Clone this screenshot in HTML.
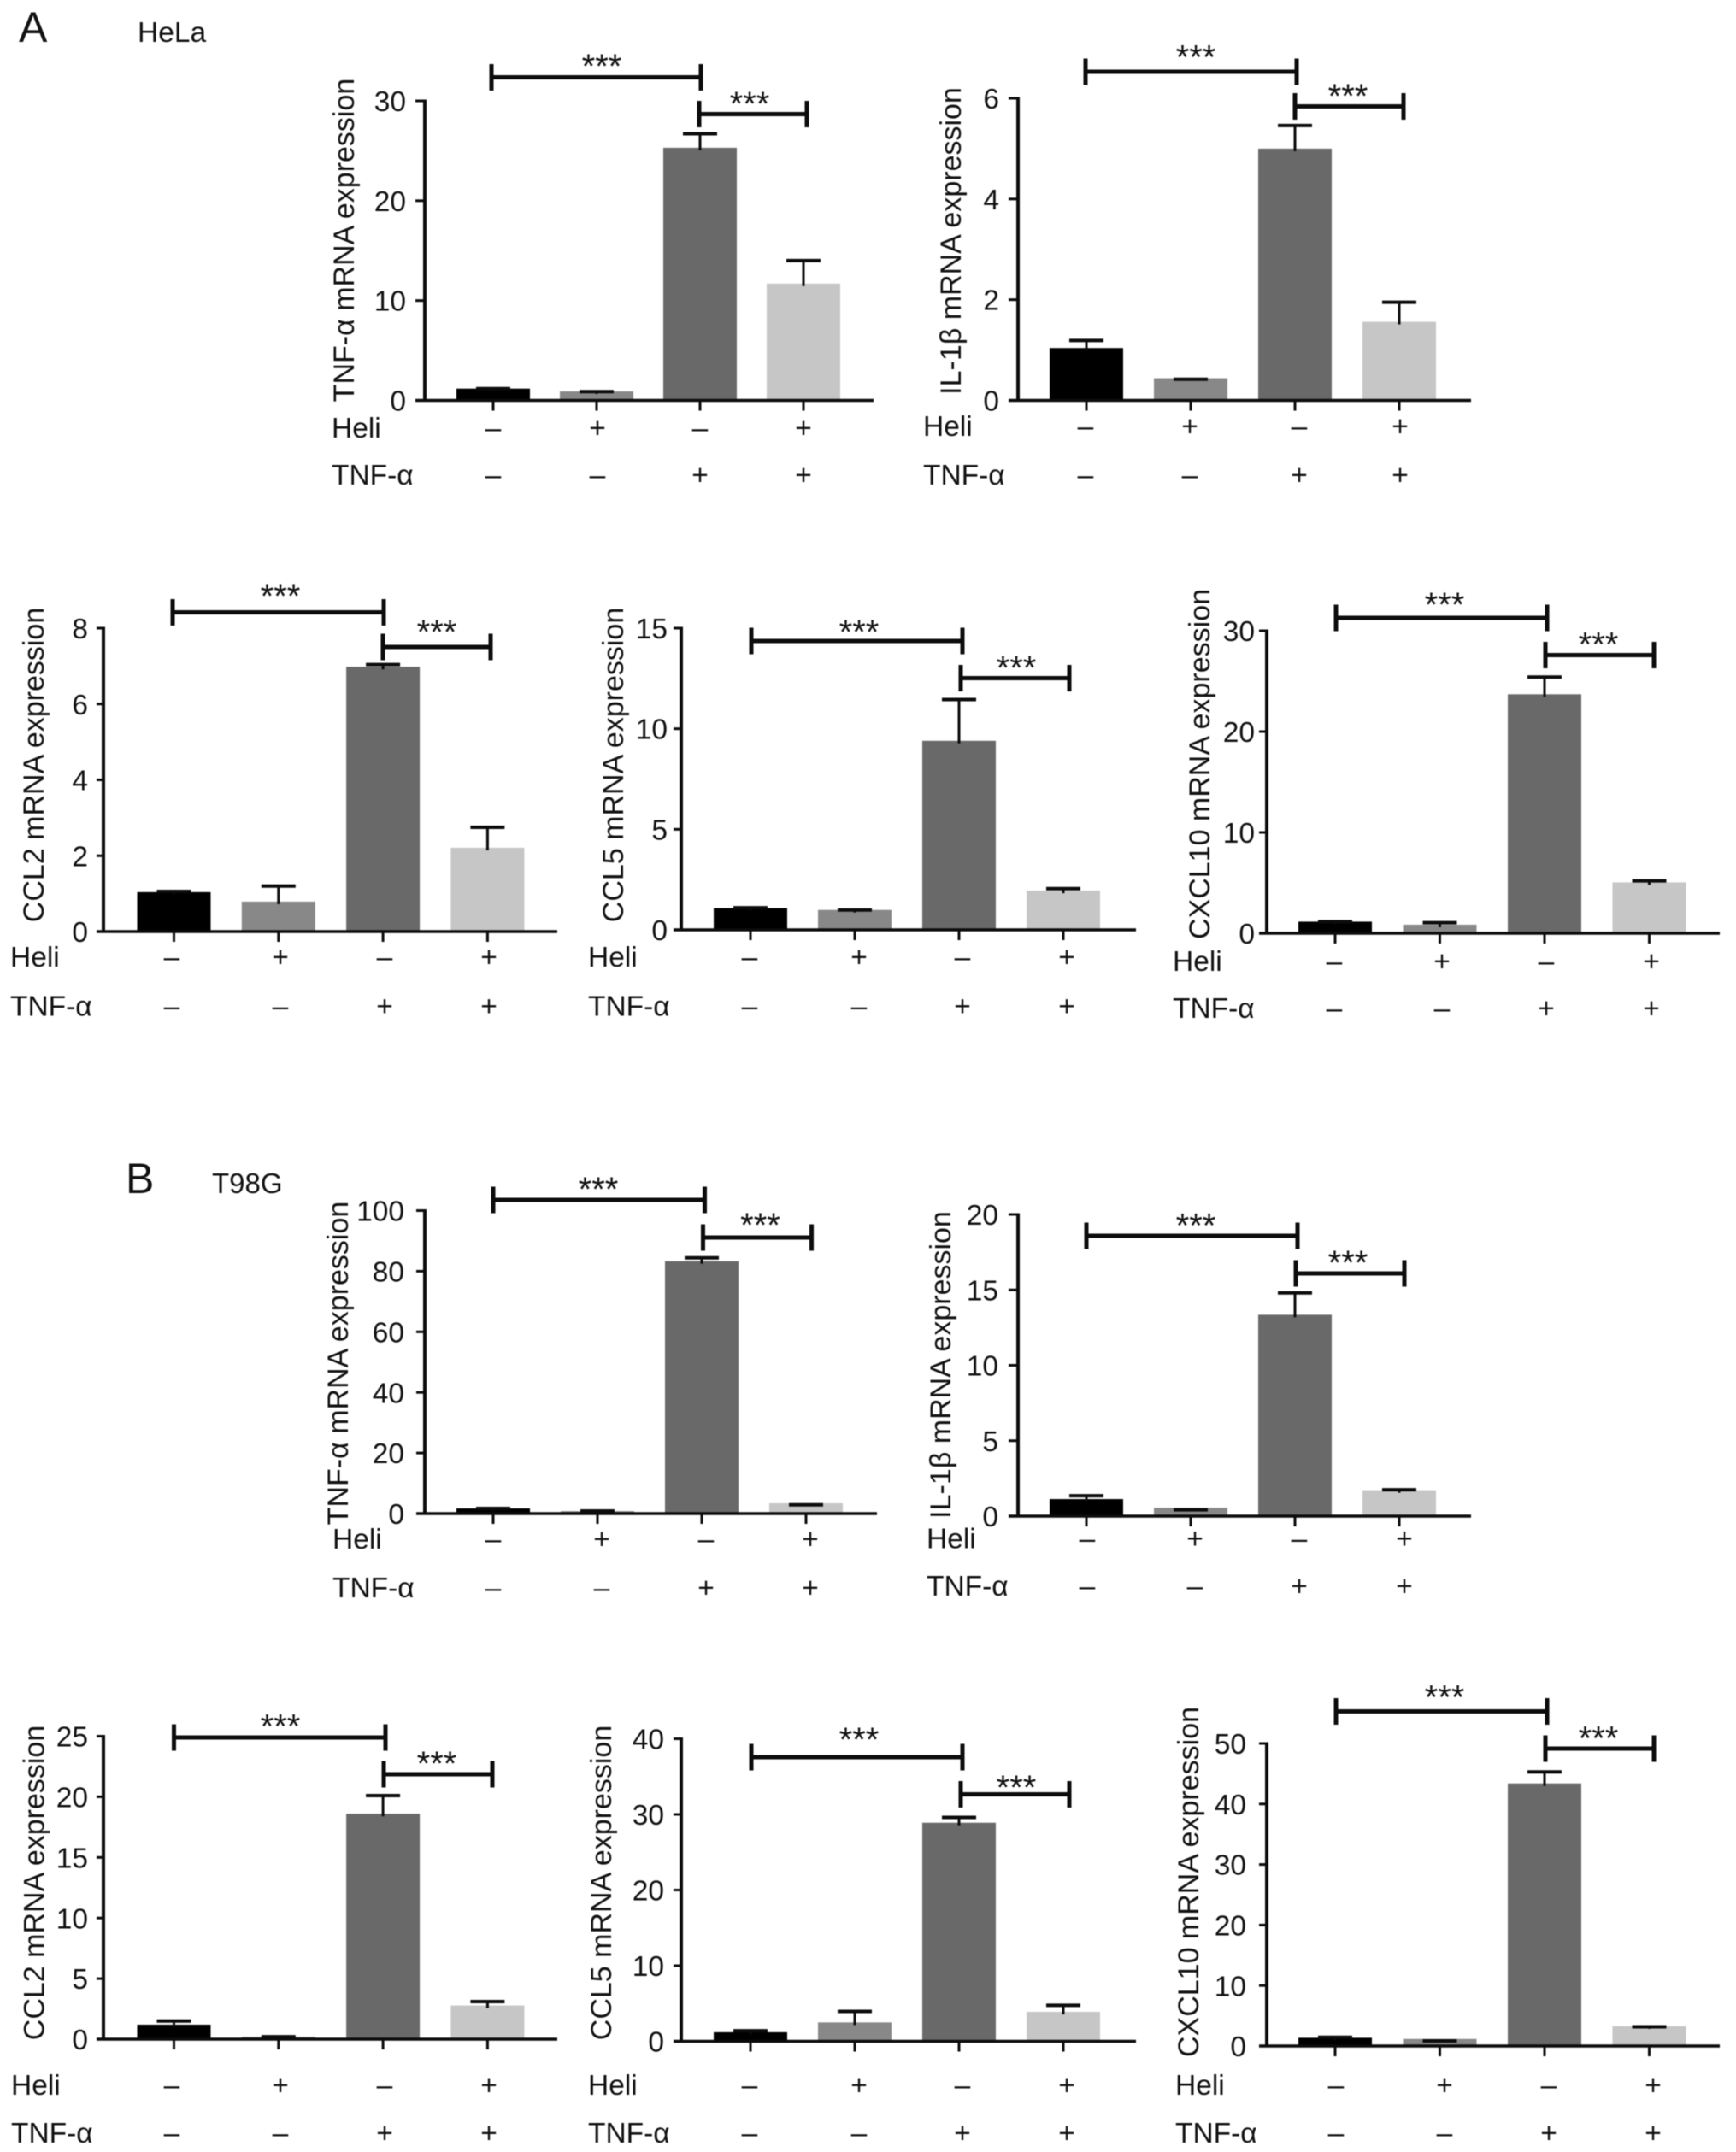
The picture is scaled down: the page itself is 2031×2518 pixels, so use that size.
<!DOCTYPE html>
<html lang="en">
<head>
<meta charset="utf-8">
<title>mRNA expression in HeLa and T98G cells</title>
<style>
html,body{margin:0;padding:0;background:#fff;}
body{width:2031px;height:2518px;overflow:hidden;}
svg{display:block;filter:blur(0.6px);}
text{font-family:"Liberation Sans",sans-serif;fill:#111;}
</style>
</head>
<body>
<svg id="figure" xmlns="http://www.w3.org/2000/svg" width="2031" height="2518" viewBox="0 0 2031 2518">
  <rect x="0" y="0" width="2031" height="2518" fill="#fff"/>
  <text x="22" y="49" font-size="50">A</text>
  <text x="161" y="49" font-size="33.5">HeLa</text>
  <text x="147" y="1396" font-size="50">B</text>
  <text x="248" y="1396" font-size="33">T98G</text>
</svg>
<script>
// Shared categories and sign rows
const categories = ['control', 'heli', 'tnf', 'heli-tnf'];
const heliSigns = ['–', '+', '–', '+'];
const tnfSigns = ['–', '–', '+', '+'];

// HeLa: bar means and error-bar upper ends
const helaTnfValues = [1.18, 0.9, 25.3, 11.7];
const helaTnfUppers = [1.18, 0.88, 26.7, 14.0];
const helaTnfTicks = ['0', '10', '20', '30'];

const helaIl1Values = [1.04, 0.44, 5.0, 1.56];
const helaIl1Uppers = [1.19, 0.42, 5.46, 1.95];
const helaIl1Ticks = ['0', '2', '4', '6'];

const helaCcl2Values = [1.04, 0.79, 6.98, 2.21];
const helaCcl2Uppers = [1.06, 1.2, 7.04, 2.75];
const helaCcl2Ticks = ['0', '2', '4', '6', '8'];

const helaCcl5Values = [1.08, 0.99, 9.4, 1.95];
const helaCcl5Uppers = [1.1, 0.99, 11.45, 2.05];
const helaCcl5Ticks = ['0', '5', '10', '15'];

const helaCxcl10Values = [1.15, 0.85, 23.7, 5.05];
const helaCxcl10Uppers = [1.15, 1.05, 25.4, 5.2];
const helaCxcl10Ticks = ['0', '10', '20', '30'];

// T98G
const t98gTnfValues = [1.7, 0.8, 83.3, 3.4];
const t98gTnfUppers = [1.7, 0.85, 84.4, 2.9];
const t98gTnfTicks = ['0', '20', '40', '60', '80', '100'];

const t98gIl1Values = [1.13, 0.55, 13.35, 1.72];
const t98gIl1Uppers = [1.35, 0.42, 14.8, 1.75];
const t98gIl1Ticks = ['0', '5', '10', '15', '20'];

const t98gCcl2Values = [1.2, 0.2, 18.6, 2.78];
const t98gCcl2Uppers = [1.5, 0.2, 20.1, 3.1];
const t98gCcl2Ticks = ['0', '5', '10', '15', '20', '25'];

const t98gCcl5Values = [1.2, 2.5, 28.9, 3.9];
const t98gCcl5Uppers = [1.4, 3.95, 29.6, 4.76];
const t98gCcl5Ticks = ['0', '10', '20', '30', '40'];

const t98gCxcl10Values = [1.36, 1.16, 43.4, 3.27];
const t98gCxcl10Uppers = [1.45, 0.85, 45.3, 3.17];
const t98gCxcl10Ticks = ['0', '10', '20', '30', '40', '50'];

const panels = [
  {id:'hela-tnf', title:'TNF-α mRNA expression', values:helaTnfValues, uppers:helaTnfUppers, ticks:helaTnfTicks,
   axisX:497, top:118, base:468.5, x0:486, x1:1022, first:577, step:121, tickRight:475, titleX:402, titleY:281,
   labelX:388, heliY:500, tnfY:555, signX:[577,699,819,940],
   b1:[575,820,90.5,704,71], b2:[818,944,133.5,877,115]},
  {id:'hela-il1b', title:'IL-1β mRNA expression', values:helaIl1Values, uppers:helaIl1Uppers, ticks:helaIl1Ticks,
   axisX:1191, top:115, base:468.5, x0:1180, x1:1721, first:1271, step:122, tickRight:1169, titleX:1112, titleY:282,
   labelX:1080, heliY:498, tnfY:555, signX:[1270,1392,1520,1638],
   b1:[1270,1517,84,1399,60.5], b2:[1515,1642,124.5,1577,106]},
  {id:'hela-ccl2', title:'CCL2 mRNA expression', values:helaCcl2Values, uppers:helaCcl2Uppers, ticks:helaCcl2Ticks,
   axisX:121, top:735, base:1090, x0:113, x1:652, first:203.5, step:122.3, tickRight:103, titleX:39, titleY:895,
   labelX:12, heliY:1119, tnfY:1176.5, signX:[201,328,450,572],
   b1:[202,449,716.5,328,691], b2:[448,574,757,511,733]},
  {id:'hela-ccl5', title:'CCL5 mRNA expression', values:helaCcl5Values, uppers:helaCcl5Uppers, ticks:helaCcl5Ticks,
   axisX:797, top:735, base:1088, x0:788, x1:1329, first:878, step:122, tickRight:781, titleX:717, titleY:895,
   labelX:688, heliY:1119, tnfY:1176.5, signX:[877,1005,1126,1248],
   b1:[879,1126,750,1005,733], b2:[1124,1251,793.5,1189,775]},
  {id:'hela-cxcl10', title:'CXCL10 mRNA expression', values:helaCxcl10Values, uppers:helaCxcl10Uppers, ticks:helaCxcl10Ticks,
   axisX:1482, top:738, base:1092, x0:1473, x1:2012, first:1562, step:122.5, tickRight:1468, titleX:1403, titleY:894,
   labelX:1372, heliY:1124, tnfY:1179, signX:[1561,1687,1809,1932],
   b1:[1563,1810,723,1690,701], b2:[1808,1935,766.5,1870,747.5]},
  {id:'t98g-tnf', title:'TNF-α mRNA expression', values:t98gTnfValues, uppers:t98gTnfUppers, ticks:t98gTnfTicks,
   axisX:497, top:1416.5, base:1771, x0:487, x1:1026, first:577, step:122, tickRight:473, titleX:395, titleY:1595,
   labelX:389, heliY:1800, tnfY:1857, signX:[577,704,826,948],
   b1:[577,824.5,1404,700,1385], b2:[822.5,949.5,1448,889.5,1427]},
  {id:'t98g-il1b', title:'IL-1β mRNA expression', values:t98gIl1Values, uppers:t98gIl1Uppers, ticks:t98gIl1Ticks,
   axisX:1191, top:1421, base:1774, x0:1180, x1:1721, first:1271, step:122, tickRight:1168, titleX:1100, titleY:1597,
   labelX:1084, heliY:1799.5, tnfY:1855, signX:[1272,1398,1520,1643],
   b1:[1271,1518,1446,1399,1427.5], b2:[1516,1643,1490,1577,1471]},
  {id:'t98g-ccl2', title:'CCL2 mRNA expression', values:t98gCcl2Values, uppers:t98gCcl2Uppers, ticks:t98gCcl2Ticks,
   axisX:121, top:2031.5, base:2386, x0:113, x1:652, first:203.5, step:122.3, tickRight:103, titleX:39.5, titleY:2203,
   labelX:13, heliY:2439, tnfY:2495, signX:[201,328,450,572],
   b1:[203.5,451,2033,328,2013.5], b2:[449,576,2076,511,2057]},
  {id:'t98g-ccl5', title:'CCL5 mRNA expression', values:t98gCcl5Values, uppers:t98gCcl5Uppers, ticks:t98gCcl5Ticks,
   axisX:797, top:2034.5, base:2388.5, x0:788, x1:1329, first:878, step:122, tickRight:777, titleX:703, titleY:2203,
   labelX:688, heliY:2439, tnfY:2495, signX:[877,1005,1126,1248],
   b1:[879,1126,2056,1005,2029], b2:[1124,1251,2099.5,1189,2085]},
  {id:'t98g-cxcl10', title:'CXCL10 mRNA expression', values:t98gCxcl10Values, uppers:t98gCxcl10Uppers, ticks:t98gCxcl10Ticks,
   axisX:1482, top:2040, base:2394, x0:1473, x1:2012, first:1562, step:122.5, tickRight:1458, titleX:1390, titleY:2202,
   labelX:1375, heliY:2439, tnfY:2495, signX:[1563,1690,1812,1934],
   b1:[1563,1810,2002.5,1690,1979.5], b2:[1808,1935,2046,1870,2027.5]}
];

const barFills = ['#000000', '#888888', '#696969', '#c6c6c6'];
const BAR_WIDTH = 86;
const CAP_WIDTH = 40;
const SVG_NS = 'http://www.w3.org/2000/svg';
const FONT = 33.5;
const TITLE_FONT = 34;
const figure = document.getElementById('figure');

function makeLine(parent, x1, y1, x2, y2, width, color) {
  const el = document.createElementNS(SVG_NS, 'line');
  el.setAttribute('x1', x1);
  el.setAttribute('y1', y1);
  el.setAttribute('x2', x2);
  el.setAttribute('y2', y2);
  el.setAttribute('stroke', color || '#0c0c0c');
  el.setAttribute('stroke-width', width);
  parent.appendChild(el);
  return el;
}

function makeText(parent, x, y, str, size, anchor) {
  const el = document.createElementNS(SVG_NS, 'text');
  el.setAttribute('x', x);
  el.setAttribute('y', y);
  el.setAttribute('font-size', size);
  el.setAttribute('text-anchor', anchor || 'start');
  el.textContent = str;
  parent.appendChild(el);
  return el;
}

function drawBracket(parent, spec, name) {
  const x0 = spec[0], x1 = spec[1], y = spec[2], sx = spec[3], sy = spec[4];
  const g = document.createElementNS(SVG_NS, 'g');
  
  
  parent.appendChild(g);
  makeLine(g, x0, y, x1, y, 5);
  makeLine(g, x0, y - 15.5, x0, y + 15.5, 5);
  makeLine(g, x1, y - 15.5, x1, y + 15.5, 5);
  const stars = makeText(g, sx, sy + 20, '***', 40, 'middle');
  
  
}

function drawPanel(p) {
  const maxValue = Number(p.ticks[p.ticks.length - 1]);
  const yScale = function (v) { return p.base - (v / maxValue) * (p.base - p.top); };
  const xScale = function (i) { return p.first + i * p.step; };

  const g = document.createElementNS(SVG_NS, 'g');
  
  
  figure.appendChild(g);

  // bars
  p.values.forEach(function (v, i) {
    const bar = document.createElementNS(SVG_NS, 'rect');
    
    
    bar.setAttribute('x', xScale(i) - BAR_WIDTH / 2);
    bar.setAttribute('y', yScale(v));
    bar.setAttribute('width', BAR_WIDTH);
    bar.setAttribute('height', p.base - yScale(v));
    bar.setAttribute('fill', barFills[i]);
    g.appendChild(bar);
  });

  // error bars
  p.uppers.forEach(function (u, i) {
    const eb = document.createElementNS(SVG_NS, 'g');
    
    
    g.appendChild(eb);
    const xc = xScale(i);
    makeLine(eb, xc, yScale(u), xc, yScale(p.values[i]) + 3, 3);
    makeLine(eb, xc - CAP_WIDTH / 2, yScale(u), xc + CAP_WIDTH / 2, yScale(u), 4);
  });

  // y axis
  const yAxis = document.createElementNS(SVG_NS, 'g');
  
  
  g.appendChild(yAxis);
  makeLine(yAxis, p.axisX, p.top - 1.5, p.axisX, p.base + 1.5, 4);
  p.ticks.forEach(function (t) {
    const ty = yScale(Number(t));
    makeLine(yAxis, p.x0, ty, p.axisX, ty, 3);
    const lab = makeText(yAxis, p.tickRight, ty + FONT * 0.36, t, FONT, 'end');
    
    
  });

  // y title
  const title = makeText(g, 0, 0, p.title, TITLE_FONT, 'middle');
  title.setAttribute('transform', 'translate(' + (p.titleX + TITLE_FONT * 0.36) + ',' + p.titleY + ') rotate(-90)');
  
  

  // x axis
  const xAxis = document.createElementNS(SVG_NS, 'g');
  
  
  g.appendChild(xAxis);
  makeLine(xAxis, p.x0, p.base, p.x1, p.base, 3.5);
  categories.forEach(function (c, i) {
    makeLine(xAxis, xScale(i), p.base, xScale(i), p.base + 12, 3);
  });

  // treatment rows
  const heliLabel = makeText(g, p.labelX, p.heliY + FONT * 0.36, 'Heli', FONT);
  
  
  const tnfLabel = makeText(g, p.labelX, p.tnfY + FONT * 0.36, 'TNF-α', FONT);
  
  
  categories.forEach(function (c, i) {
    const a = makeText(g, p.signX[i], p.heliY + FONT * 0.36, heliSigns[i], FONT, 'middle');
    
    
    const b = makeText(g, p.signX[i], p.tnfY + FONT * 0.36, tnfSigns[i], FONT, 'middle');
    
    
  });

  // brackets
  drawBracket(g, p.b1, 'significance-bracket-control-vs-tnf');
  drawBracket(g, p.b2, 'significance-bracket-tnf-vs-heli-tnf');
}

panels.forEach(drawPanel);
</script>
</body>
</html>
